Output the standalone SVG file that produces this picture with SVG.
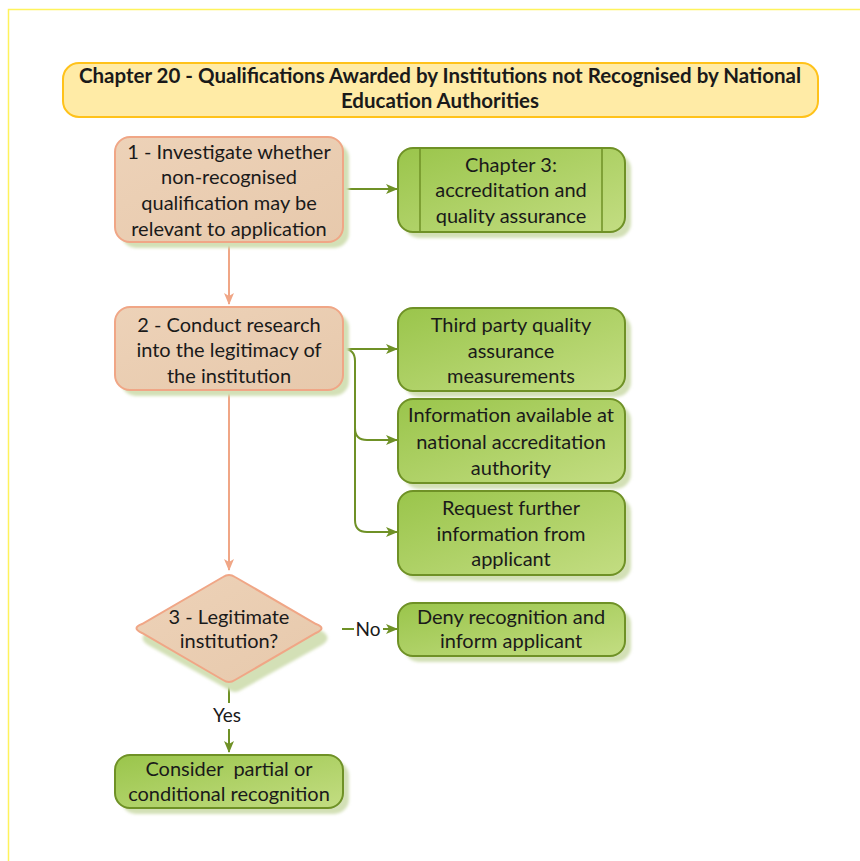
<svg xmlns="http://www.w3.org/2000/svg" width="860" height="861" viewBox="0 0 860 861">
<defs>
<linearGradient id="gGreen" x1="0" y1="0" x2="1" y2="1">
<stop offset="0" stop-color="#9AC54B"/>
<stop offset="1" stop-color="#C3DD82"/>
</linearGradient>
<linearGradient id="gPeach" x1="0" y1="0" x2="1" y2="1">
<stop offset="0" stop-color="#EDD2B8"/>
<stop offset="1" stop-color="#E7C9AC"/>
</linearGradient>
<filter id="blur" x="-10%" y="-10%" width="130%" height="130%"><feGaussianBlur stdDeviation="1.5"/></filter>
<marker id="aG" viewBox="0 0 12 10" refX="11" refY="5" markerWidth="12" markerHeight="10" markerUnits="userSpaceOnUse" orient="auto">
<path d="M0,0 L12,5 L0,10 L3,5 z" fill="#6F9126"/>
</marker>
<marker id="aP" viewBox="0 0 12 10" refX="11" refY="5" markerWidth="12" markerHeight="10" markerUnits="userSpaceOnUse" orient="auto">
<path d="M0,0 L12,5 L0,10 L3,5 z" fill="#F0A686"/>
</marker>
</defs>
<style>
.t{font-family:Lato,"Liberation Sans",sans-serif;font-size:20px;fill:#1A1A1A;text-anchor:middle;white-space:pre}
.h{font-family:Lato,"Liberation Sans",sans-serif;font-size:20.5px;font-weight:bold;fill:#1A1A1A;text-anchor:middle}
.g{fill:url(#gGreen);stroke:#6F9126;stroke-width:2}
.p{fill:url(#gPeach);stroke:#F0A686;stroke-width:2}
.s{fill:#D3E0B6;filter:url(#blur)}
.cg{fill:none;stroke:#6F9126;stroke-width:2}
.cp{fill:none;stroke:#F0A686;stroke-width:2}
</style>
<rect x="8.5" y="9.5" width="900" height="900" fill="#FFFFFF" stroke="#FFF35C" stroke-width="1.5"/>

<g id="title">
<rect x="63" y="63" width="755" height="54" rx="16" fill="#FFEBA6" stroke="#FFC21A" stroke-width="2"/>
<text class="h" x="440" y="83">Chapter 20 - Qualifications Awarded by Institutions not Recognised by National</text>
<text class="h" x="440" y="108">Education Authorities</text>
</g>

<g id="connectors">
<path class="cg" d="M343,189 L397,189" marker-end="url(#aG)"/>
<path class="cp" d="M229,243 L229,304" marker-end="url(#aP)"/>
<path class="cg" d="M343,349 L397,349" marker-end="url(#aG)"/>
<path class="cg" d="M343,349 Q355,349 355,361 L355,428 Q355,440 367,440 L397,440" marker-end="url(#aG)"/>
<path class="cg" d="M355,428 L355,520 Q355,532 367,532 L397,532" marker-end="url(#aG)"/>
<path class="cp" d="M229,391 L229,570" marker-end="url(#aP)"/>
<path class="cg" d="M342,629 L354,629"/>
<text class="t" x="368" y="636" style="font-size:19px">No</text>
<path class="cg" d="M383,629 L397,629" marker-end="url(#aG)"/>
<path class="cg" d="M229,684 L229,703"/>
<text class="t" x="227" y="722" style="font-size:19px">Yes</text>
<path class="cg" d="M229,729 L229,752" marker-end="url(#aG)"/>
</g>

<g id="n1">
<rect class="s" x="121" y="143" width="228" height="105" rx="15"/>
<rect class="p" x="115" y="137" width="228" height="105" rx="15"/>
<text class="t" x="229" y="159">1 - Investigate whether</text>
<text class="t" x="229" y="184">non-recognised</text>
<text class="t" x="229" y="210">qualification may be</text>
<text class="t" x="229" y="236">relevant to application</text>
</g>

<g id="ch3">
<rect class="s" x="404" y="154" width="227" height="84" rx="15"/>
<rect class="g" x="398" y="148" width="227" height="84" rx="15"/>
<line x1="420" y1="149" x2="420" y2="231" stroke="#6F9126" stroke-width="1.5"/>
<line x1="602" y1="149" x2="602" y2="231" stroke="#6F9126" stroke-width="1.5"/>
<text class="t" x="511" y="172">Chapter 3:</text>
<text class="t" x="511" y="197">accreditation and</text>
<text class="t" x="511" y="223">quality assurance</text>
</g>

<g id="n2">
<rect class="s" x="121" y="313" width="228" height="83" rx="15"/>
<rect class="p" x="115" y="307" width="228" height="83" rx="15"/>
<text class="t" x="229" y="332">2 - Conduct research</text>
<text class="t" x="229" y="357">into the legitimacy of</text>
<text class="t" x="229" y="383">the institution</text>
</g>

<g id="third">
<rect class="s" x="404" y="314" width="227" height="83" rx="15"/>
<rect class="g" x="398" y="308" width="227" height="83" rx="15"/>
<text class="t" x="511" y="332">Third party quality</text>
<text class="t" x="511" y="358">assurance</text>
<text class="t" x="511" y="383">measurements</text>
</g>

<g id="info">
<rect class="s" x="404" y="405" width="227" height="84" rx="15"/>
<rect class="g" x="398" y="399" width="227" height="84" rx="15"/>
<text class="t" x="511" y="422">Information available at</text>
<text class="t" x="511" y="449">national accreditation</text>
<text class="t" x="511" y="475">authority</text>
</g>

<g id="request">
<rect class="s" x="404" y="497" width="227" height="84" rx="15"/>
<rect class="g" x="398" y="491" width="227" height="84" rx="15"/>
<text class="t" x="511" y="515">Request further</text>
<text class="t" x="511" y="541">information from</text>
<text class="t" x="511" y="566">applicant</text>
</g>

<g id="n3">
<path class="s" d="M241,583 L322,631 Q333,638 322,645 L241,690 Q235,694 229,690 L148,645 Q137,638 148,631 L229,583 Q235,579 241,583 Z"/>
<path class="p" d="M235,577 L316,624 Q327,628 316,633 L235,680 Q229,684 223,680 L142,633 Q131,628 142,624 L223,577 Q229,573 235,577 Z"/>
<text class="t" x="229" y="624">3 - Legitimate</text>
<text class="t" x="229" y="648">institution?</text>
</g>

<g id="deny">
<rect class="s" x="404" y="609" width="227" height="53" rx="15"/>
<rect class="g" x="398" y="603" width="227" height="53" rx="15"/>
<text class="t" x="511" y="624">Deny recognition and</text>
<text class="t" x="511" y="648">inform applicant</text>
</g>

<g id="consider">
<rect class="s" x="121" y="761" width="228" height="53" rx="15"/>
<rect class="g" x="115" y="755" width="228" height="53" rx="15"/>
<text class="t" x="229" y="776">Consider  partial or</text>
<text class="t" x="229" y="801">conditional recognition</text>
</g>
</svg>
